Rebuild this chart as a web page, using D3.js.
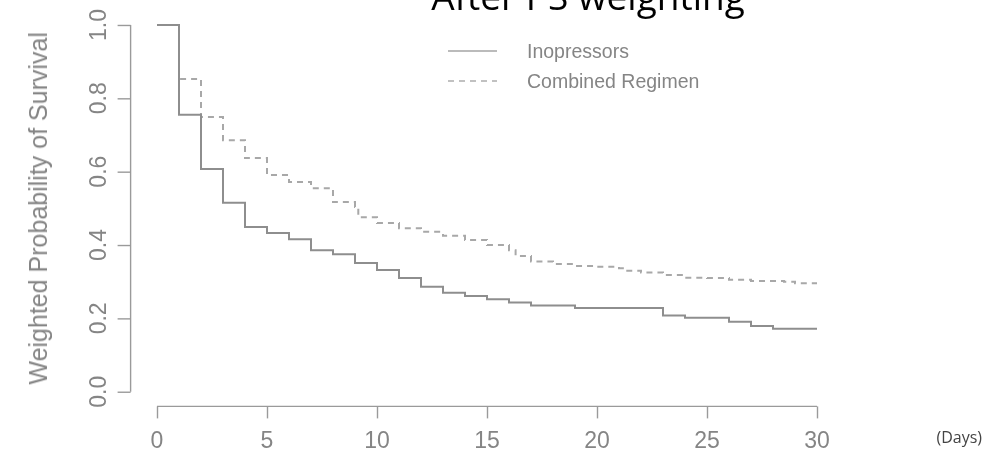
<!DOCTYPE html>
<html>
<head>
<meta charset="utf-8">
<script src="https://cdn.jsdelivr.net/npm/d3@7"></script>
<style>
  html, body { margin: 0; padding: 0; background: #fff; }
  svg { display: block; }
</style>
</head>
<body>
<svg id="chart" width="984" height="454"></svg>
<script>
// Weighted Kaplan-Meier survival estimates (step changes at each day)
const inoTimes = [0, 1, 2, 3, 4, 5, 6, 7, 8, 9, 10, 11, 12, 13, 14, 15, 16, 17, 19, 23, 24, 26, 27, 28];
const inoSurv  = [1.0, 0.755, 0.607, 0.515, 0.449, 0.433, 0.416, 0.386, 0.375, 0.351, 0.332, 0.310, 0.286, 0.270, 0.261, 0.252, 0.243, 0.235, 0.228, 0.208, 0.202, 0.191, 0.179, 0.172];

const comboTimes = [0, 1, 2, 3, 4, 5, 6, 7, 8, 9, 9.15, 10, 11, 12, 13, 14, 15, 16, 16.3, 17, 18, 19, 20, 21, 21.3, 22, 23, 24, 25, 26, 27, 28.5, 29];
const comboSurv  = [1.0, 0.853, 0.749, 0.686, 0.637, 0.591, 0.572, 0.555, 0.517, 0.504, 0.476, 0.460, 0.446, 0.436, 0.425, 0.414, 0.400, 0.386, 0.370, 0.355, 0.348, 0.343, 0.341, 0.337, 0.330, 0.325, 0.318, 0.311, 0.310, 0.305, 0.302, 0.300, 0.296];

const endTime = 30;

const xTicks = [0, 5, 10, 15, 20, 25, 30];
const yTicks = [0.0, 0.2, 0.4, 0.6, 0.8, 1.0];

const seriesNames = ["Inopressors", "Combined Regimen"];
const titleText = "After PS weighting";
const yTitle = "Weighted Probability of Survival";
const xUnit = "(Days)";

const svg = d3.select("#chart");

// blur filter for the soft plot rendering
const defs = svg.append("defs");
defs.append("filter").attr("id", "soft")
  .attr("x", "-5%").attr("y", "-5%").attr("width", "110%").attr("height", "110%")
  .append("feGaussianBlur").attr("stdDeviation", 0.6);

// R-style scales: 4% padding on each side of the data range
const x = d3.scaleLinear().domain([-1.2, 31.2]).range([130.6, 843.4]);
const y = d3.scaleLinear().domain([-0.04, 1.04]).range([406.4, 10.3]);

const plot = svg.append("g").attr("filter", "url(#soft)");

const axisColor = "#9a9a9a";
const textColor = "#858585";
const font = "'Liberation Sans', Arial, sans-serif";

// y axis
const yAxis = d3.axisLeft(y).tickValues(yTicks).tickSize(13).tickFormat("");
const gy = plot.append("g").attr("transform", `translate(${x(-1.2)},0)`).call(yAxis);
gy.select(".domain").attr("d", `M0,${y(0)}V${y(1)}`);
gy.selectAll("line, path").attr("stroke", axisColor).attr("stroke-width", 1.4);

plot.selectAll(".ylab").data(yTicks).enter().append("text")
  .attr("class", "ylab")
  .attr("transform", d => `translate(106,${y(d)}) rotate(-90)`)
  .attr("text-anchor", "middle")
  .attr("font-family", font).attr("font-size", 23)
  .attr("fill", textColor)
  .text(d => d.toFixed(1));

// x axis
const xAxis = d3.axisBottom(x).tickValues(xTicks).tickSize(12).tickFormat("");
const gx = plot.append("g").attr("transform", `translate(0,${y(-0.04)})`).call(xAxis);
gx.select(".domain").attr("d", `M${x(0)},0H${x(30)}`);
gx.selectAll("line, path").attr("stroke", axisColor).attr("stroke-width", 1.4);

plot.selectAll(".xlab").data(xTicks).enter().append("text")
  .attr("class", "xlab")
  .attr("x", d => x(d)).attr("y", 448)
  .attr("text-anchor", "middle")
  .attr("font-family", font).attr("font-size", 23)
  .attr("fill", textColor)
  .text(d => d);

// y axis title
plot.append("text")
  .attr("transform", `translate(47,${(y(0) + y(1)) / 2}) rotate(-90)`)
  .attr("text-anchor", "middle")
  .attr("font-family", font).attr("font-size", 25)
  .attr("fill", textColor)
  .text(yTitle);

// survival step curves
const line = d3.line()
  .x(d => x(d[0]))
  .y(d => y(d[1]))
  .curve(d3.curveStepAfter);

function pts(times, surv) {
  const p = times.map((t, i) => [t, surv[i]]);
  p.push([endTime, surv[surv.length - 1]]);
  return p;
}

plot.append("path")
  .datum(pts(comboTimes, comboSurv))
  .attr("d", line)
  .attr("fill", "none")
  .attr("stroke", "#a8a8a8")
  .attr("stroke-width", 2)
  .attr("stroke-dasharray", "6,5");

plot.append("path")
  .datum(pts(inoTimes, inoSurv))
  .attr("d", line)
  .attr("fill", "none")
  .attr("stroke", "#8e8e8e")
  .attr("stroke-width", 2);

// legend
const legend = plot.append("g");
const legendRows = [
  { name: seriesNames[0], dash: null, color: "#a5a5a5", ly: 51 },
  { name: seriesNames[1], dash: "6,5", color: "#adadad", ly: 81 }
];
legendRows.forEach(r => {
  legend.append("line")
    .attr("x1", 448).attr("x2", 497)
    .attr("y1", r.ly).attr("y2", r.ly)
    .attr("stroke", r.color).attr("stroke-width", 1.6)
    .attr("stroke-dasharray", r.dash);
  legend.append("text")
    .attr("x", 527).attr("y", r.ly + 7)
    .attr("font-family", font).attr("font-size", 19.5)
    .attr("fill", textColor)
    .text(r.name);
});

// unit label
svg.append("text")
  .attr("x", 982).attr("y", 443)
  .attr("text-anchor", "end")
  .attr("font-family", "'Open Sans', sans-serif").attr("font-size", 16)
  .attr("fill", "#444")
  .text(xUnit);

// title (runs off the top edge)
svg.append("text")
  .attr("x", 588).attr("y", 10)
  .attr("text-anchor", "middle")
  .attr("font-family", "'Open Sans', sans-serif").attr("font-size", 37)
  .attr("fill", "#000")
  .text(titleText);
</script>
</body>
</html>
